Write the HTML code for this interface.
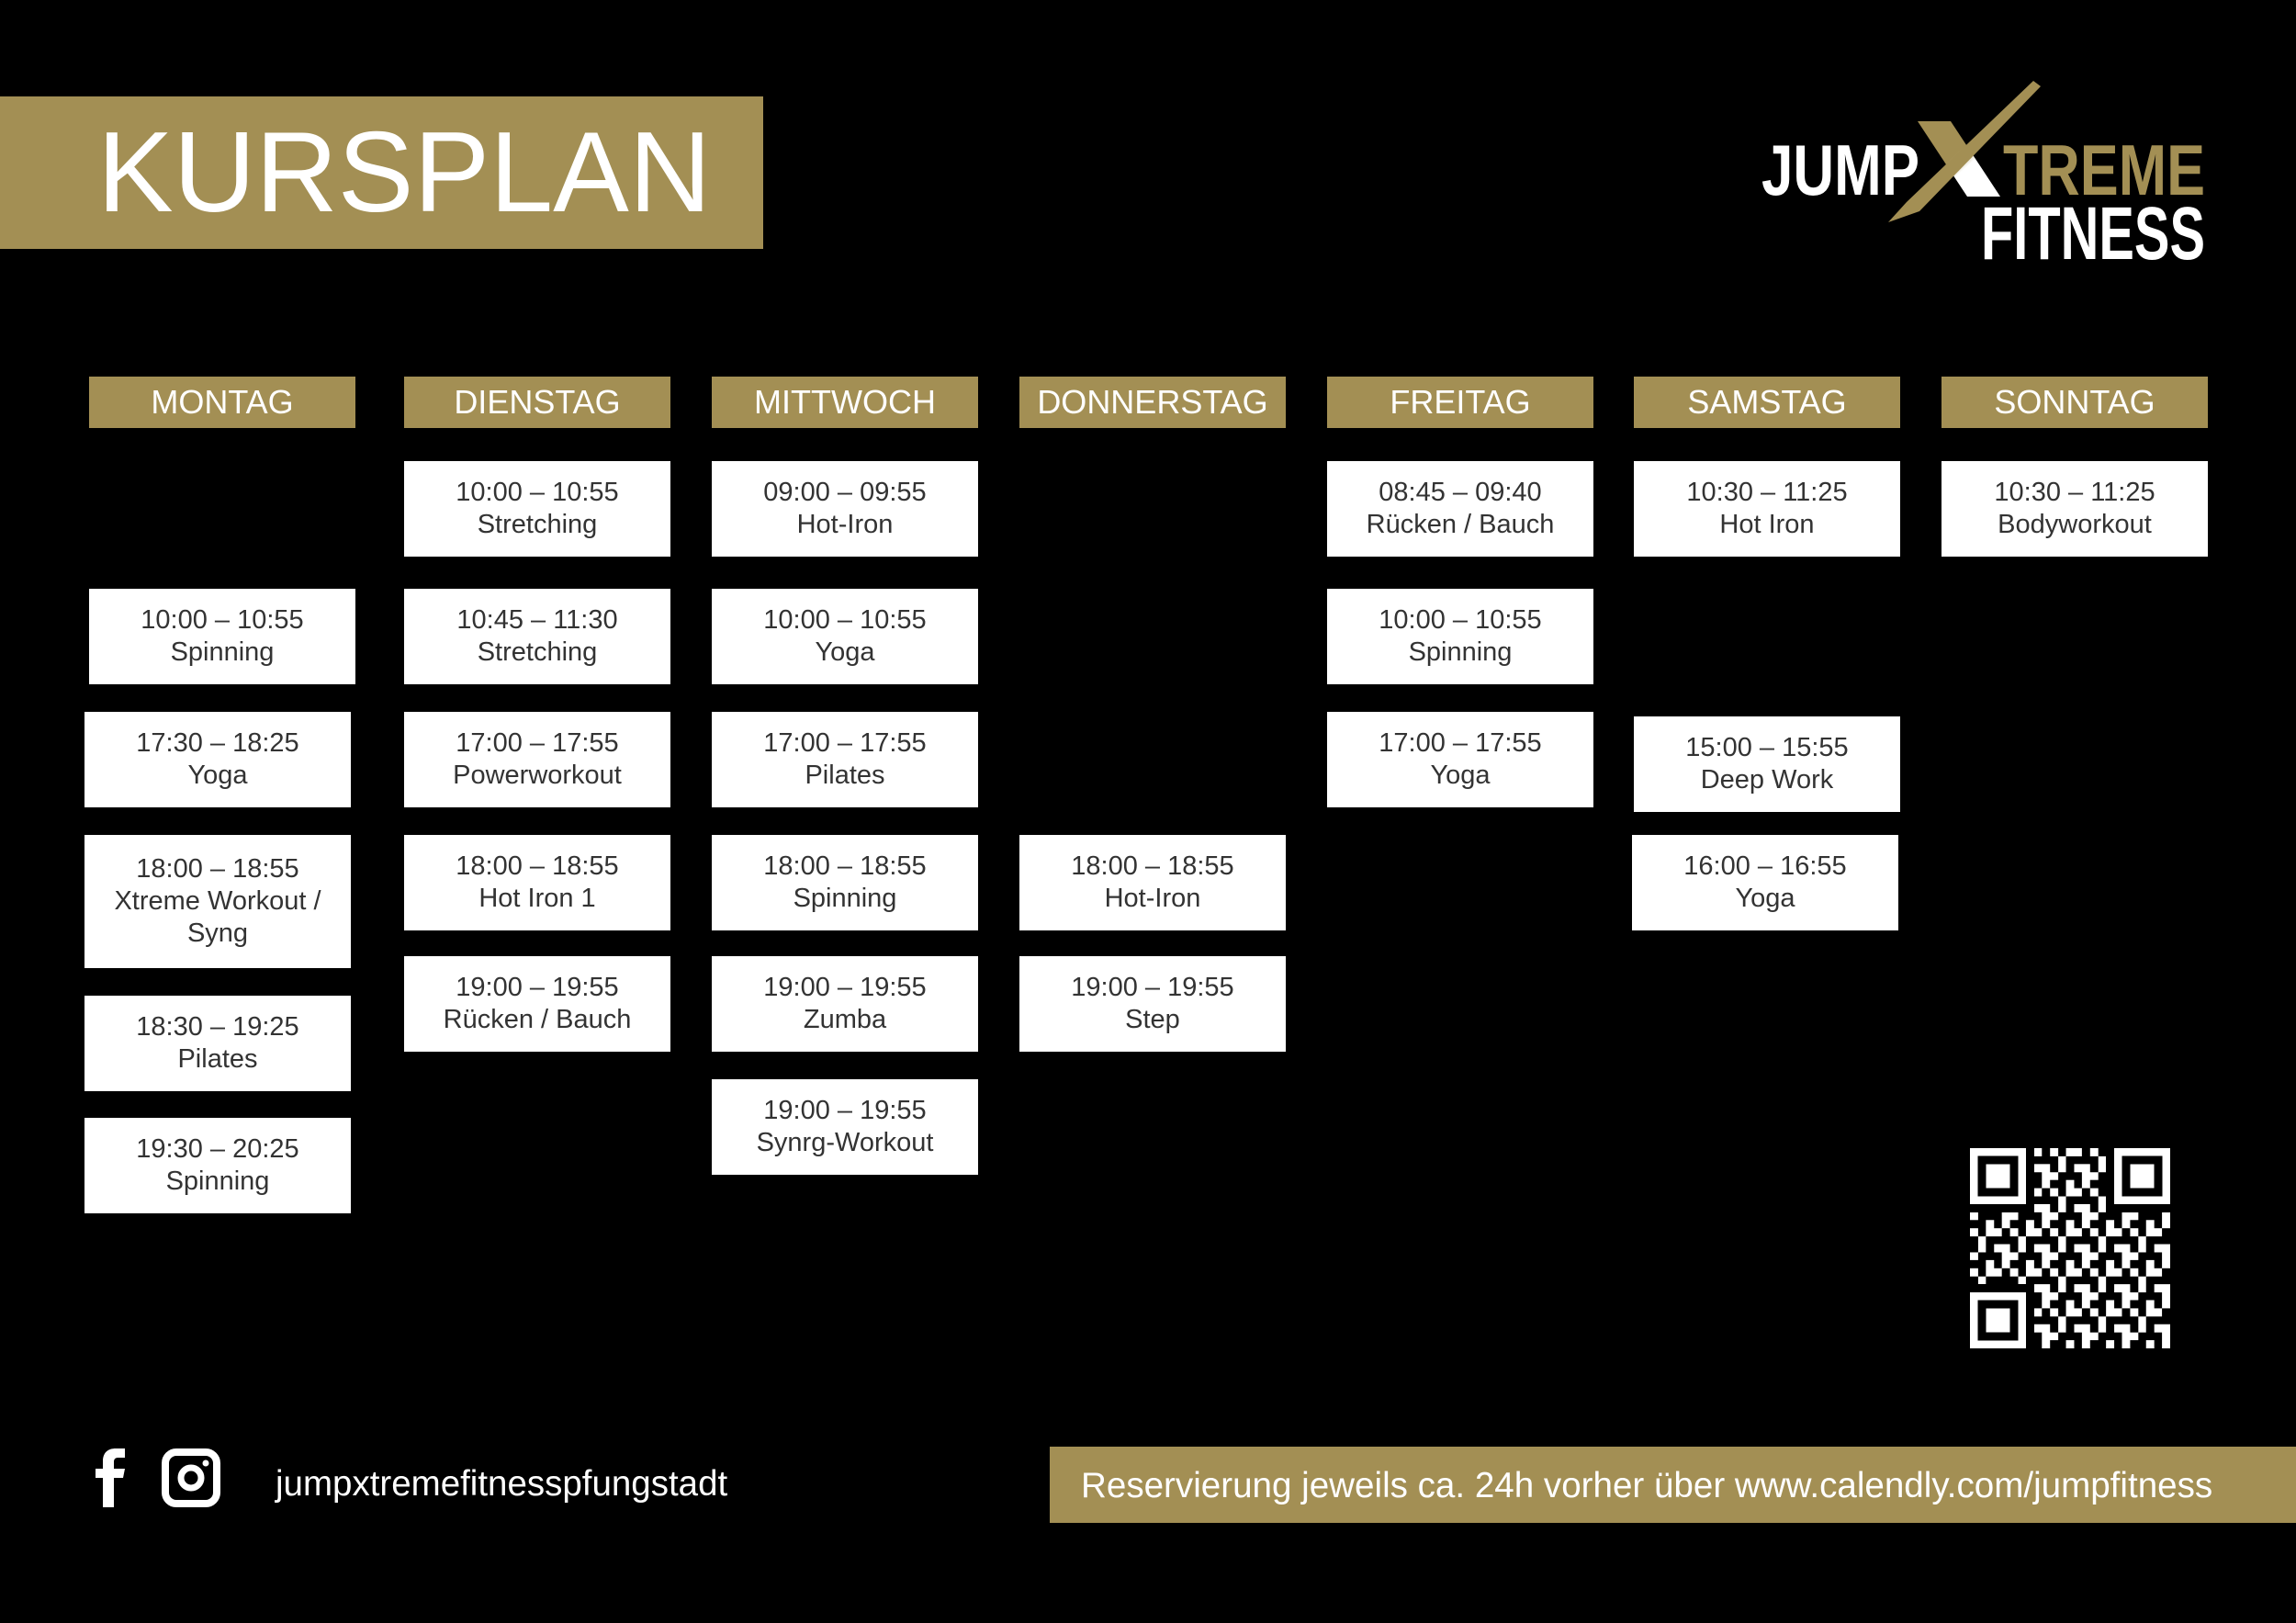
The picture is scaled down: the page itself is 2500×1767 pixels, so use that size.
<!DOCTYPE html>
<html><head><meta charset="utf-8"><style>
*{margin:0;padding:0;box-sizing:border-box}
body{width:2500px;height:1767px;background:#000;position:relative;overflow:hidden;font-family:"Liberation Sans",Arial,sans-serif}
.a{position:absolute}
.h{position:absolute;top:410px;width:290px;height:56px;background:#a38f54;color:#fff;font-size:36px;line-height:56px;text-align:center}
.b{position:absolute;width:290px;height:104px;background:#fff;color:#333;font-size:29px;line-height:35px;text-align:center;display:flex;flex-direction:column;justify-content:center}
</style></head><body>
<div class="a" style="left:0;top:105px;width:831px;height:166px;background:#a38f54"></div>
<div class="a" style="left:106px;top:118px;font-size:124px;line-height:140px;color:#fff">KURSPLAN</div>

<svg class="a" style="left:1880px;top:80px" width="560" height="220" viewBox="0 0 560 220">
<defs><linearGradient id="g" x1="0" y1="0" x2="1" y2="1"><stop offset="0.45" stop-color="#a38f54"/><stop offset="0.6" stop-color="#fff"/></linearGradient></defs>
<polygon points="208,52 244,52 298,134 262,134" fill="url(#g)"/>
<polygon points="334,8 342,14 210,150 176,162 196,140" fill="#a38f54"/>
<text x="38" y="132" font-family="Liberation Sans" font-weight="bold" font-size="78" fill="#fff" textLength="172" lengthAdjust="spacingAndGlyphs">JUMP</text>
<text x="301" y="132" font-family="Liberation Sans" font-weight="bold" font-size="78" fill="#a38f54" textLength="220" lengthAdjust="spacingAndGlyphs">TREME</text>
<text x="277" y="202" font-family="Liberation Sans" font-weight="bold" font-size="82" fill="#fff" textLength="244" lengthAdjust="spacingAndGlyphs">FITNESS</text>
</svg>

<div class="h" style="left:97px">MONTAG</div>
<div class="h" style="left:440px">DIENSTAG</div>
<div class="h" style="left:775px">MITTWOCH</div>
<div class="h" style="left:1110px">DONNERSTAG</div>
<div class="h" style="left:1445px">FREITAG</div>
<div class="h" style="left:1779px">SAMSTAG</div>
<div class="h" style="left:2114px">SONNTAG</div>

<div class="b" style="left:97px;top:641px">10:00 – 10:55<br>Spinning</div>
<div class="b" style="left:92px;top:775px">17:30 – 18:25<br>Yoga</div>
<div class="b" style="left:92px;top:909px;height:145px">18:00 – 18:55<br>Xtreme Workout /<br>Syng</div>
<div class="b" style="left:92px;top:1084px">18:30 – 19:25<br>Pilates</div>
<div class="b" style="left:92px;top:1217px">19:30 – 20:25<br>Spinning</div>

<div class="b" style="left:440px;top:502px">10:00 – 10:55<br>Stretching</div>
<div class="b" style="left:440px;top:641px">10:45 – 11:30<br>Stretching</div>
<div class="b" style="left:440px;top:775px">17:00 – 17:55<br>Powerworkout</div>
<div class="b" style="left:440px;top:909px">18:00 – 18:55<br>Hot Iron 1</div>
<div class="b" style="left:440px;top:1041px">19:00 – 19:55<br>Rücken / Bauch</div>

<div class="b" style="left:775px;top:502px">09:00 – 09:55<br>Hot-Iron</div>
<div class="b" style="left:775px;top:641px">10:00 – 10:55<br>Yoga</div>
<div class="b" style="left:775px;top:775px">17:00 – 17:55<br>Pilates</div>
<div class="b" style="left:775px;top:909px">18:00 – 18:55<br>Spinning</div>
<div class="b" style="left:775px;top:1041px">19:00 – 19:55<br>Zumba</div>
<div class="b" style="left:775px;top:1175px">19:00 – 19:55<br>Synrg-Workout</div>

<div class="b" style="left:1110px;top:909px">18:00 – 18:55<br>Hot-Iron</div>
<div class="b" style="left:1110px;top:1041px">19:00 – 19:55<br>Step</div>

<div class="b" style="left:1445px;top:502px">08:45 – 09:40<br>Rücken / Bauch</div>
<div class="b" style="left:1445px;top:641px">10:00 – 10:55<br>Spinning</div>
<div class="b" style="left:1445px;top:775px">17:00 – 17:55<br>Yoga</div>

<div class="b" style="left:1779px;top:502px">10:30 – 11:25<br>Hot Iron</div>
<div class="b" style="left:1779px;top:780px">15:00 – 15:55<br>Deep Work</div>
<div class="b" style="left:1777px;top:909px">16:00 – 16:55<br>Yoga</div>

<div class="b" style="left:2114px;top:502px">10:30 – 11:25<br>Bodyworkout</div>

<svg class="a" style="left:2144px;top:1250px" width="220" height="218" viewBox="0 0 25 25" shape-rendering="crispEdges">
<defs><pattern id="p" width="5" height="5" patternUnits="userSpaceOnUse">
<rect x="0" y="0" width="1" height="1" fill="#fff"/><rect x="2" y="0" width="2" height="1" fill="#fff"/>
<rect x="1" y="1" width="1" height="2" fill="#fff"/><rect x="3" y="2" width="2" height="1" fill="#fff"/>
<rect x="0" y="3" width="1" height="1" fill="#fff"/><rect x="2" y="4" width="1" height="1" fill="#fff"/><rect x="4" y="3" width="1" height="2" fill="#fff"/>
</pattern></defs>
<rect width="25" height="25" fill="#000"/>
<rect width="25" height="25" fill="url(#p)"/>
<g fill="#000"><rect x="0" y="0" width="8" height="8"/><rect x="17" y="0" width="8" height="8"/><rect x="0" y="17" width="8" height="8"/></g>
<g fill="#fff"><rect x="0" y="0" width="7" height="7"/><rect x="18" y="0" width="7" height="7"/><rect x="0" y="18" width="7" height="7"/></g>
<g fill="#000"><rect x="1" y="1" width="5" height="5"/><rect x="19" y="1" width="5" height="5"/><rect x="1" y="19" width="5" height="5"/></g>
<g fill="#fff"><rect x="2" y="2" width="3" height="3"/><rect x="20" y="2" width="3" height="3"/><rect x="2" y="20" width="3" height="3"/></g>
</svg>

<svg class="a" style="left:100px;top:1575px" width="150" height="70" viewBox="0 0 150 70">
<path d="M12 66 V34 H4 V24 H12 V16 C12 6 18 2 26 2 H36 V12 H29 C25 12 24 14 24 17 V24 H36 L34 34 H24 V66 Z" fill="#fff"/>
<rect x="80" y="6" width="56" height="56" rx="12" fill="none" stroke="#fff" stroke-width="8"/>
<circle cx="108" cy="34" r="11" fill="none" stroke="#fff" stroke-width="7"/>
<circle cx="124" cy="18" r="3.5" fill="#fff"/>
</svg>
<div class="a" style="left:300px;top:1594px;font-size:38.5px;line-height:44px;color:#fff">jumpxtremefitnesspfungstadt</div>

<div class="a" style="left:1143px;top:1575px;width:1357px;height:83px;background:#a38f54"></div>
<div class="a" style="left:1177px;top:1595px;font-size:38.6px;line-height:46px;color:#fff;white-space:nowrap">Reservierung jeweils ca. 24h vorher über www.calendly.com/jumpfitness</div>
</body></html>
